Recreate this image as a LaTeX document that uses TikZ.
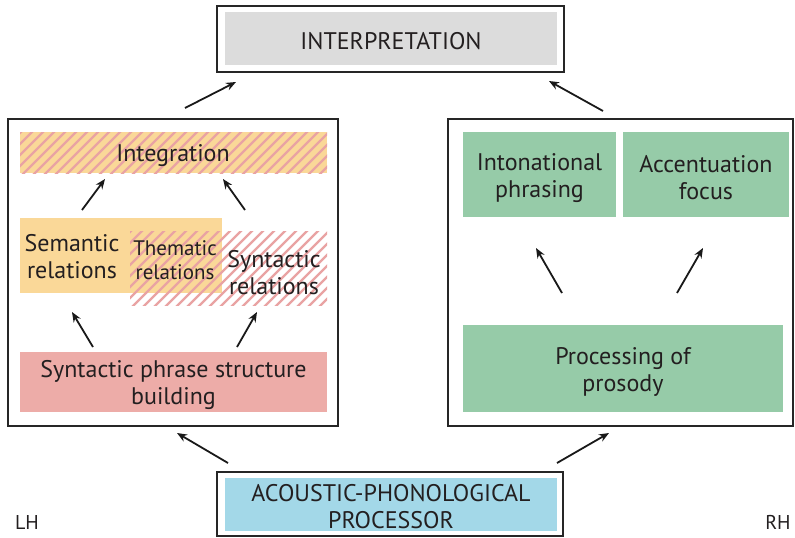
\documentclass[tikz,border=0pt]{standalone}
\usepackage{fontspec}
\setmainfont{PT Sans}
\usetikzlibrary{arrows.meta}
\definecolor{yel}{HTML}{FAD898}
\definecolor{pinkstripe}{HTML}{E9A3A3}
\definecolor{pinkbox}{HTML}{EDACA8}
\definecolor{grn}{HTML}{96CBA8}
\definecolor{blu}{HTML}{A3D8E8}
\definecolor{gry}{HTML}{DCDCDC}
\definecolor{txt}{HTML}{231F20}
\begin{document}
\begin{tikzpicture}[x=1pt,y=-1pt,
  frame/.style={draw=black!85, line width=2.2pt, fill=white, inner sep=0pt},
  fillbox/.style={inner sep=0pt},
  plain/.style={inner sep=0pt, align=center, text=txt, font=\fontsize{24}{27}\selectfont},
  lowtext/.style={plain, yshift=-3pt},
  arr/.style={line width=1.8pt, black!90, -{Stealth[length=10pt,width=8pt]}},
  stripe/.style={pinkstripe, line width=2.3pt}]
\useasboundingbox (0,0) rectangle (795,538);

% frames
\node[frame, minimum width=347pt, minimum height=66pt] (interpF) at (390.5,39) {};
\node[frame, minimum width=330pt, minimum height=307pt] (leftF) at (173,272.5) {};
\node[frame, minimum width=345pt, minimum height=307pt] (rightF) at (620.5,272.5) {};
\node[frame, minimum width=346pt, minimum height=64pt] (acF) at (390,504) {};

% top and bottom filled boxes
\node[fillbox, fill=gry, minimum width=332pt, minimum height=53pt] (interp) at (391,38.5) {};
\node[lowtext] (interpT) at (interp.center) {INTERPRETATION};
\node[fillbox, fill=blu, minimum width=332pt, minimum height=53pt] (ac) at (391,504.5) {};
\node[plain, yshift=-2.5pt] (acT) at (ac.center) {ACOUSTIC-PHONOLOGICAL\\PROCESSOR};

% left side
\fill[yel] (20,132) rectangle (327,173);
\fill[yel] (20,218) rectangle (222,293);
\begin{scope}
  \clip (20,132) rectangle (327,173);
  \foreach \i in {-60,-49,...,340} \draw[stripe] (\i,180) -- ++(60,-60);
\end{scope}
\begin{scope}
  \clip (130,231) rectangle (327,305);
  \foreach \i in {50,61,...,340} \draw[stripe] (\i,312) -- ++(90,-90);
\end{scope}
\node[plain] (integ) at (173,156) {Integration};
\node[plain] (sem) at (72,257) {Semantic\\relations};
\node[plain, font=\fontsize{21}{24}\selectfont] (them) at (175,260) {Thematic\\relations};
\node[plain] (synrel) at (274,273) {Syntactic\\relations};
\node[fillbox, fill=pinkbox, minimum width=307pt, minimum height=60pt] (spsb) at (173.5,382) {};
\node[lowtext] (spsbT) at (spsb.center) {Syntactic phrase structure\\building};

% right side
\node[fillbox, fill=grn, minimum width=153pt, minimum height=85pt] (inton) at (539.5,174.5) {};
\node[plain, yshift=-4pt] (intonT) at (inton.center) {Intonational\\phrasing};
\node[fillbox, fill=grn, minimum width=166pt, minimum height=85pt] (accent) at (706,174.5) {};
\node[plain, yshift=-3pt] (accentT) at (accent.center) {Accentuation\\focus};
\node[fillbox, fill=grn, minimum width=320pt, minimum height=87pt] (prosody) at (623,368.5) {};
\node[lowtext] (prosodyT) at (prosody.center) {Processing of\\prosody};

% labels
\node[plain, font=\fontsize{20}{23}\selectfont] (lh) at (27,522) {LH};
\node[plain, font=\fontsize{20}{23}\selectfont] (rh) at (778,522) {RH};

% arrow coordinates
\coordinate (a1s) at (82,210);  \coordinate (a1e) at (105,179);
\coordinate (a2s) at (245,210); \coordinate (a2e) at (223,179);
\coordinate (b1s) at (93,347);  \coordinate (b1e) at (72,312);
\coordinate (b2s) at (237,347); \coordinate (b2e) at (257,312);
\coordinate (c1s) at (562,293); \coordinate (c1e) at (536,248);
\coordinate (c2s) at (677,293); \coordinate (c2e) at (703,248);
\coordinate (d1s) at (185,108); \coordinate (d1e) at (236,82);
\coordinate (d2s) at (603,111); \coordinate (d2e) at (549,81);
\coordinate (e1s) at (228,463); \coordinate (e1e) at (177,433);
\coordinate (e2s) at (557,463); \coordinate (e2e) at (609,433);

\foreach \p in {a1,a2,b1,b2,c1,c2,d1,d2,e1,e2}
  \draw[arr] (\p s) -- (\p e);
\end{tikzpicture}
\end{document}
